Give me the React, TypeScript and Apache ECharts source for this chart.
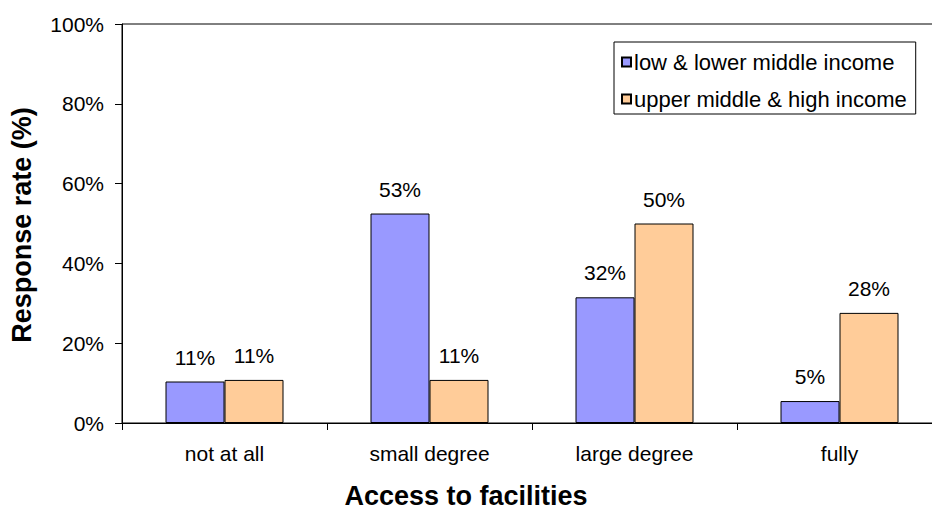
import React, { useEffect, useRef } from "react";
import * as echarts from "echarts";

const categories = ["not at all", "small degree", "large degree", "fully"];
const lowIncome = [10.4, 52.5, 31.5, 5.5];
const highIncome = [10.8, 10.8, 50.0, 27.6];
const lowLabels = ["11%", "53%", "32%", "5%"];
const highLabels = ["11%", "11%", "50%", "28%"];
const seriesNames = ["low & lower middle income", "upper middle & high income"];
const yTicks = [0, 20, 40, 60, 80, 100];
const xTitle = "Access to facilities";
const yTitle = "Response rate (%)";

const FONT = "'Liberation Sans', Arial, sans-serif";
const FS = 21;

export default function App() {
  const ref = useRef<HTMLDivElement>(null);
  useEffect(() => {
    if (!ref.current) return;
    const chart = echarts.init(ref.current, undefined, { renderer: "svg" });
    chart.setOption({
      animation: false,
      backgroundColor: "#ffffff",
      textStyle: { fontFamily: FONT },
      grid: {
        left: 122,
        top: 24,
        bottom: 88,
        right: 8,
        show: true,
        borderColor: "#000",
        borderWidth: 1,
        backgroundColor: "transparent",
      },
      legend: {
        orient: "vertical",
        left: 614,
        top: 42,
        padding: [9, 9, 4, 7],
        itemGap: 15,
        itemWidth: 9,
        itemHeight: 9,
        icon: "rect",
        borderColor: "#000",
        borderWidth: 1,
        backgroundColor: "#fff",
        textStyle: { fontFamily: FONT, fontSize: 22, color: "#000", padding: [0, 0, 0, -2] },
        data: seriesNames,
      },
      graphic: [
        {
          type: "text",
          x: 466,
          y: 496,
          style: {
            text: xTitle,
            fontFamily: FONT,
            fontSize: 27,
            fontWeight: "bold",
            fill: "#000",
            align: "center",
            verticalAlign: "middle",
          },
        },
        {
          type: "text",
          x: 22,
          y: 225,
          rotation: Math.PI / 2,
          style: {
            text: yTitle,
            fontFamily: FONT,
            fontSize: 27,
            fontWeight: "bold",
            fill: "#000",
            align: "center",
            verticalAlign: "middle",
          },
        },
      ],
      xAxis: {
        type: "category",
        data: categories,
        axisLine: { lineStyle: { color: "#000", width: 1 } },
        axisTick: { show: true, length: 7, lineStyle: { color: "#000" }, alignWithLabel: false },
        axisLabel: { fontFamily: FONT, fontSize: FS, color: "#000", margin: 20 },
      },
      yAxis: {
        type: "value",
        min: 0,
        max: 100,
        interval: 20,
        axisLine: { show: true, lineStyle: { color: "#000", width: 1 } },
        axisTick: { show: true, length: 7, lineStyle: { color: "#000" } },
        splitLine: { show: false },
        axisLabel: {
          fontFamily: FONT,
          fontSize: FS,
          color: "#000",
          margin: 18,
          formatter: (v: number) => (yTicks.includes(v) ? v + "%" : ""),
        },
      },
      series: [
        {
          name: seriesNames[0],
          type: "bar",
          data: lowIncome,
          barWidth: 59,
          barGap: "0%",
          itemStyle: { color: "#9999FF", borderColor: "#000", borderWidth: 1 },
          label: {
            show: true,
            position: "top",
            distance: 14,
            fontFamily: FONT,
            fontSize: FS,
            color: "#000",
            formatter: (p: any) => lowLabels[p.dataIndex],
          },
        },
        {
          name: seriesNames[1],
          type: "bar",
          data: highIncome,
          barWidth: 59,
          barGap: "0%",
          itemStyle: { color: "#FFCC99", borderColor: "#000", borderWidth: 1 },
          label: {
            show: true,
            position: "top",
            distance: 14,
            fontFamily: FONT,
            fontSize: FS,
            color: "#000",
            formatter: (p: any) => highLabels[p.dataIndex],
          },
        },
      ],
    });
    return () => chart.dispose();
  }, []);
  return (
    <div
      style={{ position: "fixed", left: 0, top: 0, width: 932, height: 511, overflow: "hidden", background: "#fff" }}
    >
      <div ref={ref} style={{ width: 950, height: 511 }} />
    </div>
  );
}
